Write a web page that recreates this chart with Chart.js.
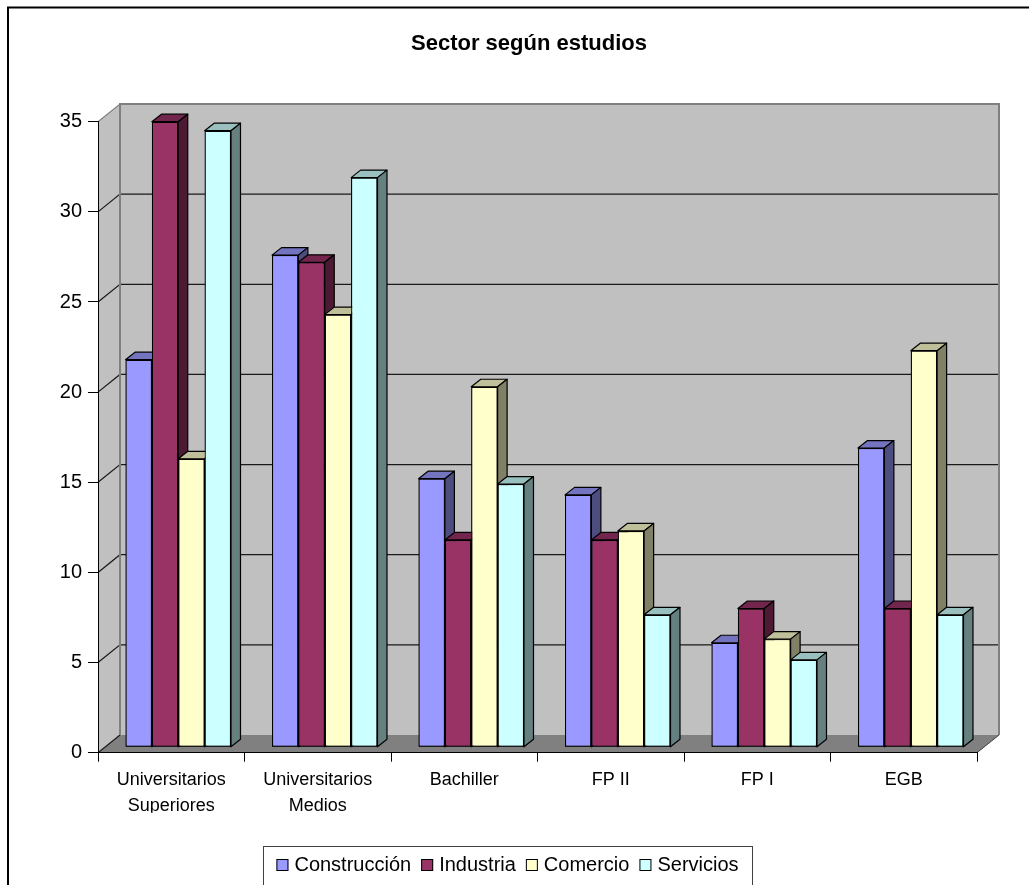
<!DOCTYPE html>
<html>
<head>
<meta charset="utf-8">
<title>Sector según estudios</title>
<script src="https://cdn.jsdelivr.net/npm/chart.js@4.4.1/dist/chart.umd.min.js"></script>
<style>
  html, body { margin: 0; padding: 0; background: #fff; }
  canvas { display: block; }
</style>
</head>
<body>
<canvas id="sectorChart" width="1029" height="885"></canvas>
<script>
// datos
const categories = [['Universitarios', 'Superiores'], ['Universitarios', 'Medios'], 'Bachiller', 'FP II', 'FP I', 'EGB'];
const seriesNames = ['Construcción', 'Industria', 'Comercio', 'Servicios'];
const construccion = [21.5, 27.3, 14.9, 14.0, 5.8, 16.6];
const industria = [34.7, 26.9, 11.5, 11.5, 7.7, 7.7];
const comercio = [16.0, 24.0, 20.0, 12.0, 6.0, 22.0];
const servicios = [34.2, 31.6, 14.6, 7.35, 4.85, 7.35];
const yTicks = [0, 5, 10, 15, 20, 25, 30, 35];

// colores estilo Excel (frente / arriba / lado)
const FRONT = ['#9999ff', '#993366', '#ffffcc', '#ccffff'];
const TOP = ['#7373bf', '#73264d', '#bfbf99', '#99bfbf'];
const SIDE = ['#4d4d80', '#4d1a33', '#808066', '#668080'];

// desplazamientos de la perspectiva
const WALL_DX = 22, WALL_DY = -17.7;   // pared del fondo
const BAR_DX = 7, BAR_DY = -5.4;       // plano frontal de las barras
const DEPTH_DX = 9.5, DEPTH_DY = -7.5; // profundidad de cada barra

Chart.defaults.font.family = '"Liberation Sans", Arial, sans-serif';
Chart.defaults.color = '#000';

const allSeries = [construccion, industria, comercio, servicios];

/**
 * Dibuja paredes, suelo, caras 3D, título y leyenda
 */
const excel3d = {
    id: 'excel3d',
    beforeDraw(chart) {
        const ctx = chart.ctx;
        const area = chart.chartArea;
        const y = chart.scales.y;
        const L = area.left, R = area.right, T = y.getPixelForValue(35), B = y.getPixelForValue(0);

        ctx.save();
        ctx.fillStyle = '#fff';
        ctx.fillRect(0, 0, chart.width, chart.height);

        // marco exterior
        ctx.strokeStyle = '#000';
        ctx.lineWidth = 2;
        ctx.beginPath();
        ctx.moveTo(8, 885);
        ctx.lineTo(8, 7.5);
        ctx.lineTo(1029, 7.5);
        ctx.stroke();

        // pared izquierda
        ctx.fillStyle = '#c0c0c0';
        ctx.beginPath();
        ctx.moveTo(L, T);
        ctx.lineTo(L + WALL_DX, T + WALL_DY);
        ctx.lineTo(L + WALL_DX, B + WALL_DY);
        ctx.lineTo(L, B);
        ctx.closePath();
        ctx.fill();

        // pared del fondo
        ctx.fillRect(L + WALL_DX, T + WALL_DY, R - L, B - T);

        // suelo
        ctx.fillStyle = '#808080';
        ctx.beginPath();
        ctx.moveTo(L, B);
        ctx.lineTo(L + WALL_DX, B + WALL_DY);
        ctx.lineTo(R + WALL_DX, B + WALL_DY);
        ctx.lineTo(R, B);
        ctx.closePath();
        ctx.fill();

        // líneas de división
        ctx.lineWidth = 1.2;
        yTicks.forEach(v => {
            const py = y.getPixelForValue(v);
            ctx.strokeStyle = v === 35 ? '#808080' : '#1a1a1a';
            ctx.beginPath();
            ctx.moveTo(L, py);
            ctx.lineTo(L + WALL_DX, py + WALL_DY);
            if (v > 0) ctx.lineTo(R + WALL_DX, py + WALL_DY);
            ctx.stroke();
        });

        // bordes de las paredes
        ctx.strokeStyle = '#808080';
        ctx.lineWidth = 2;
        ctx.beginPath();
        ctx.moveTo(L + WALL_DX, B + WALL_DY);
        ctx.lineTo(L + WALL_DX, T + WALL_DY);
        ctx.lineTo(R + WALL_DX, T + WALL_DY);
        ctx.lineTo(R + WALL_DX, B + WALL_DY);
        ctx.stroke();

        ctx.strokeStyle = '#404040';
        ctx.lineWidth = 1;
        ctx.beginPath();
        ctx.moveTo(R, B);
        ctx.lineTo(R + WALL_DX, B + WALL_DY);
        ctx.stroke();
        ctx.restore();
    },
    beforeDatasetsDraw(chart) {
        chart.ctx.save();
        chart.ctx.translate(BAR_DX, BAR_DY);
    },
    afterDatasetsDraw(chart) {
        const ctx = chart.ctx;
        const metas = chart.data.datasets.map((_, j) => chart.getDatasetMeta(j));
        // volver a dibujar de izquierda a derecha para que las caras se tapen bien
        for (let i = 0; i < categories.length; i++) {
            metas.forEach((meta, j) => {
                const bar = meta.data[i];
                bar.draw(ctx);
                const l = bar.x - bar.width / 2, r = bar.x + bar.width / 2;
                const t = bar.y, b = bar.base;
                ctx.save();
                ctx.strokeStyle = '#000';
                ctx.lineWidth = 1.2;
                ctx.lineJoin = 'round';
                // cara superior
                ctx.fillStyle = TOP[j];
                ctx.beginPath();
                ctx.moveTo(l, t);
                ctx.lineTo(l + DEPTH_DX, t + DEPTH_DY);
                ctx.lineTo(r + DEPTH_DX, t + DEPTH_DY);
                ctx.lineTo(r, t);
                ctx.closePath();
                ctx.fill();
                ctx.stroke();
                // cara lateral
                ctx.fillStyle = SIDE[j];
                ctx.beginPath();
                ctx.moveTo(r, t);
                ctx.lineTo(r + DEPTH_DX, t + DEPTH_DY);
                ctx.lineTo(r + DEPTH_DX, b + DEPTH_DY);
                ctx.lineTo(r, b);
                ctx.closePath();
                ctx.fill();
                ctx.stroke();
                ctx.restore();
            });
        }
        ctx.restore();
    },
    afterDraw(chart) {
        const ctx = chart.ctx;
        ctx.save();

        // título
        ctx.fillStyle = '#000';
        ctx.font = 'bold 22px "Liberation Sans", Arial, sans-serif';
        ctx.textAlign = 'center';
        ctx.textBaseline = 'middle';
        ctx.fillText('Sector según estudios', 529, 44);

        // leyenda
        const boxL = 263, boxR = 752, boxT = 846;
        ctx.strokeStyle = '#404040';
        ctx.lineWidth = 1;
        ctx.strokeRect(boxL + 0.5, boxT + 0.5, boxR - boxL, 60);

        ctx.font = '20px "Liberation Sans", Arial, sans-serif';
        ctx.textAlign = 'left';
        const mark = 12, gap = 6, space = 10;
        const items = chart.data.datasets.map(ds => ({
            text: ds.label,
            color: ds.backgroundColor,
            w: ctx.measureText(ds.label).width
        }));
        const total = items.reduce((s, it) => s + mark + gap + it.w, 0) + space * (items.length - 1);
        let cx = (boxL + boxR) / 2 - total / 2;
        const cy = 865;
        items.forEach(it => {
            ctx.fillStyle = it.color;
            ctx.fillRect(cx, cy - mark / 2, mark, mark);
            ctx.strokeStyle = '#000';
            ctx.strokeRect(cx + 0.5, cy - mark / 2 + 0.5, mark - 1, mark - 1);
            ctx.fillStyle = '#000';
            ctx.fillText(it.text, cx + mark + gap, cy);
            cx += mark + gap + it.w + space;
        });
        ctx.restore();
    }
};

const ctx = document.getElementById('sectorChart').getContext('2d');

new Chart(ctx, {
    type: 'bar',
    data: {
        labels: categories,
        datasets: seriesNames.map((name, j) => ({
            label: name,
            data: allSeries[j],
            backgroundColor: FRONT[j],
            borderColor: '#000',
            borderWidth: 1.2,
            borderSkipped: false,
            categoryPercentage: 0.72,
            barPercentage: 1.0,
            clip: false
        }))
    },
    options: {
        responsive: false,
        animation: false,
        devicePixelRatio: 1,
        layout: {
            padding: { left: 10, top: 121.7, right: 52, bottom: 72.3 }
        },
        plugins: {
            legend: { display: false },
            title: { display: false },
            tooltip: { enabled: false }
        },
        scales: {
            x: {
                afterFit(scale) { scale.height = 60; },
                grid: {
                    offset: true,
                    drawOnChartArea: false,
                    drawTicks: true,
                    tickLength: 9,
                    color: '#000'
                },
                border: { display: true, color: '#000', width: 1 },
                ticks: {
                    autoSkip: false,
                    maxRotation: 0,
                    padding: 5,
                    color: '#000',
                    font: { size: 18, lineHeight: 1.45 }
                }
            },
            y: {
                min: 0,
                max: 35,
                afterFit(scale) { scale.width = 88; },
                grid: {
                    drawOnChartArea: false,
                    drawTicks: true,
                    tickLength: 10,
                    color: '#000'
                },
                border: { display: true, color: '#000', width: 1 },
                ticks: {
                    stepSize: 5,
                    padding: 6,
                    color: '#000',
                    font: { size: 20 }
                }
            }
        }
    },
    plugins: [excel3d]
});
</script>
</body>
</html>
